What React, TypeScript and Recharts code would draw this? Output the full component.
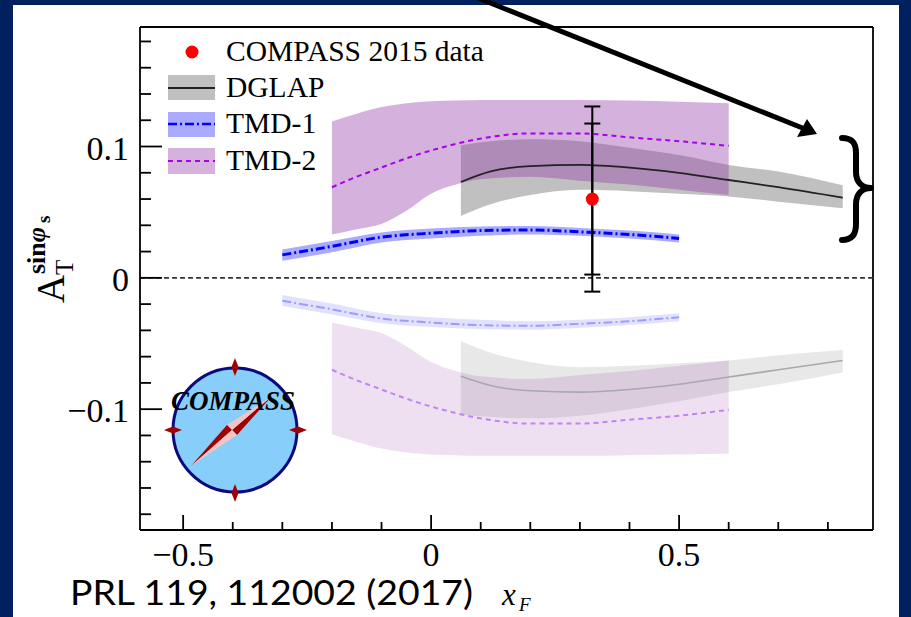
import React from 'react';
import {
  ComposedChart, Area, Line, Scatter, ErrorBar, XAxis, YAxis, ReferenceLine,
} from 'recharts';

// ---------- data ----------
const DGLAP_X = [0.06, 0.12, 0.2, 0.3, 0.4, 0.5, 0.6, 0.7, 0.83];
const DGLAP_MID = [0.073, 0.081, 0.085, 0.086, 0.084, 0.08, 0.0745, 0.069, 0.061];
const DGLAP_HI = [0.101, 0.104, 0.1055, 0.104, 0.099, 0.0935, 0.086, 0.081, 0.0705];
const DGLAP_LO = [0.047, 0.056, 0.063, 0.067, 0.066, 0.064, 0.062, 0.058, 0.053];
const DGLAP_NEG_MID = [-0.075, -0.082, -0.086, -0.087, -0.085, -0.081, -0.0755, -0.07, -0.063];
const DGLAP_NEG_HI = [-0.104, -0.106, -0.107, -0.105, -0.1, -0.094, -0.087, -0.081, -0.072];
const DGLAP_NEG_LO = [-0.048, -0.057, -0.064, -0.068, -0.067, -0.065, -0.063, -0.059, -0.055];

const TMD1_X = [-0.3, -0.2, -0.1, 0, 0.1, 0.2, 0.3, 0.4, 0.5];
const TMD1_MID = [0.0175, 0.024, 0.031, 0.034, 0.036, 0.0365, 0.035, 0.033, 0.03];
const TMD1_HI = [0.0215, 0.028, 0.0345, 0.0375, 0.039, 0.0395, 0.038, 0.036, 0.033];
const TMD1_LO = [0.013, 0.0195, 0.027, 0.03, 0.032, 0.033, 0.032, 0.03, 0.027];
const TMD1_NEG_MID = [-0.0175, -0.024, -0.031, -0.034, -0.036, -0.0365, -0.035, -0.033, -0.03];
const TMD1_NEG_HI = [-0.0215, -0.028, -0.0345, -0.0375, -0.039, -0.0395, -0.038, -0.036, -0.033];
const TMD1_NEG_LO = [-0.013, -0.0195, -0.027, -0.03, -0.032, -0.033, -0.032, -0.03, -0.027];

const TMD2_X = [-0.2, -0.15, -0.1, -0.05, 0, 0.05, 0.1, 0.2, 0.3, 0.4, 0.5, 0.6];
const TMD2_MID = [0.069, 0.077, 0.084, 0.091, 0.097, 0.102, 0.106, 0.11, 0.11, 0.107, 0.104, 0.1005];
const TMD2_HI = [0.119, 0.125, 0.13, 0.133, 0.1345, 0.135, 0.1355, 0.1355, 0.1355, 0.135, 0.134, 0.133];
const TMD2_LO = [0.033, 0.037, 0.041, 0.051, 0.064, 0.071, 0.075, 0.077, 0.074, 0.071, 0.067, 0.063];
const TMD2_NEG_MID = [-0.07, -0.078, -0.085, -0.092, -0.098, -0.103, -0.107, -0.111, -0.111, -0.108, -0.105, -0.1005];
const TMD2_NEG_HI = [-0.119, -0.125, -0.13, -0.133, -0.1345, -0.135, -0.1355, -0.1355, -0.1355, -0.135, -0.1345, -0.134];
const TMD2_NEG_LO = [-0.034, -0.038, -0.042, -0.052, -0.064, -0.071, -0.075, -0.077, -0.074, -0.071, -0.067, -0.063];

const POINT_X = [0.325];
const POINT_Y = [0.06];
const POINT_STAT = [0.0575];
const POINT_TOTAL = [0.0705];

const X_TICKS = [-0.5, -0.4, -0.3, -0.2, -0.1, 0, 0.1, 0.2, 0.3, 0.4, 0.5, 0.6, 0.7, 0.8];
const X_MAJOR = [-0.5, 0, 0.5];
const X_LABELS = ['\u22120.5', '0', '0.5'];
const Y_TICKS = [-0.18, -0.16, -0.14, -0.12, -0.1, -0.08, -0.06, -0.04, -0.02, 0, 0.02, 0.04, 0.06, 0.08, 0.1, 0.12, 0.14, 0.16, 0.18];
const Y_MAJOR = [-0.1, 0, 0.1];
const Y_LABELS = ['\u22120.1', '0', '0.1'];

const X_DOMAIN = [-0.587, 0.891];
const Y_DOMAIN = [-0.192, 0.191];

// ---------- build tables ----------
const band = (xs: number[], mid: number[], lo: number[], hi: number[]) =>
  xs.map((x, i) => ({ x, mid: mid[i], band: [lo[i], hi[i]] }));

const dglap = band(DGLAP_X, DGLAP_MID, DGLAP_LO, DGLAP_HI);
const dglapNeg = band(DGLAP_X, DGLAP_NEG_MID, DGLAP_NEG_LO, DGLAP_NEG_HI);
const tmd1 = band(TMD1_X, TMD1_MID, TMD1_LO, TMD1_HI);
const tmd1Neg = band(TMD1_X, TMD1_NEG_MID, TMD1_NEG_LO, TMD1_NEG_HI);
const tmd2 = band(TMD2_X, TMD2_MID, TMD2_LO, TMD2_HI);
const tmd2Neg = band(TMD2_X, TMD2_NEG_MID, TMD2_NEG_LO, TMD2_NEG_HI);
const points = POINT_X.map((x, i) => ({ x, y: POINT_Y[i], stat: POINT_STAT[i], total: POINT_TOTAL[i] }));

const SERIF = '"Liberation Serif", "DejaVu Serif", serif';

const XTick = (props: any) => {
  const { x, y, payload } = props;
  const idx = X_MAJOR.findIndex((m) => Math.abs(m - payload.value) < 1e-9);
  const major = idx >= 0;
  return (
    <g>
      <line x1={x} x2={x} y1={y} y2={y - (major ? 15 : 8)} stroke="#000" strokeWidth={1.8} />
      {major && (
        <text x={x} y={y + 36} textAnchor="middle" fontFamily={SERIF} fontSize={34} fill="#000">
          {X_LABELS[idx]}
        </text>
      )}
    </g>
  );
};

const YTick = (props: any) => {
  const { x, y, payload } = props;
  const idx = Y_MAJOR.findIndex((m) => Math.abs(m - payload.value) < 1e-9);
  const major = idx >= 0;
  return (
    <g>
      <line x1={x} x2={x + (major ? 22 : 11)} y1={y} y2={y} stroke="#000" strokeWidth={1.8} />
      {major && (
        <text x={x - 11} y={y + 13} textAnchor="end" fontFamily={SERIF} fontSize={34} fill="#000">
          {Y_LABELS[idx]}
        </text>
      )}
    </g>
  );
};

const RedDot = (props: any) => {
  const { cx, cy } = props;
  return <circle cx={cx} cy={cy} r={6.5} fill="#ff0000" />;
};

const PURPLE = 'rgb(150,60,170)';

export default function App() {
  return (
    <div style={{ position: 'absolute', left: 0, top: 0, width: 911, height: 617, background: '#002060', overflow: 'hidden' }}>
      <div style={{ position: 'absolute', left: 13, top: 5, width: 886, height: 612, background: '#ffffff' }} />
      <div style={{ position: 'absolute', left: 0, top: 0 }}>
        <ComposedChart width={911} height={617} margin={{ top: 27, right: 38, left: 40, bottom: 27 }}>
          <XAxis
            type="number"
            dataKey="x"
            domain={X_DOMAIN}
            allowDataOverflow
            ticks={X_TICKS}
            interval={0}
            tick={<XTick />}
            tickLine={false}
            tickSize={0}
            tickMargin={0}
            height={60}
            axisLine={{ stroke: '#000', strokeWidth: 1.8 }}
          />
          <YAxis
            type="number"
            domain={Y_DOMAIN}
            allowDataOverflow
            ticks={Y_TICKS}
            interval={0}
            tick={<YTick />}
            tickLine={false}
            tickSize={0}
            tickMargin={0}
            width={100}
            axisLine={{ stroke: '#000', strokeWidth: 1.8 }}
          />
          <ReferenceLine y={Y_DOMAIN[1]} stroke="#000" strokeWidth={1.8} ifOverflow="visible" />
          <ReferenceLine x={X_DOMAIN[1]} stroke="#000" strokeWidth={1.8} ifOverflow="visible" />

          {/* mirrored (light) curves */}
          <Area data={dglapNeg} dataKey="band" type="monotone" fill="#e8e8e8" fillOpacity={1} stroke="none" isAnimationActive={false} activeDot={false} />
          <Line data={dglapNeg} dataKey="mid" type="monotone" stroke="#a8a8b0" strokeWidth={1.6} dot={false} isAnimationActive={false} activeDot={false} />
          <Area data={tmd2Neg} dataKey="band" type="monotone" fill={PURPLE} fillOpacity={0.16} stroke="none" isAnimationActive={false} activeDot={false} />
          <Line data={tmd2Neg} dataKey="mid" type="monotone" stroke="#c084f5" strokeWidth={2} strokeDasharray="5 4" dot={false} isAnimationActive={false} activeDot={false} />
          <Area data={tmd1Neg} dataKey="band" type="monotone" fill="#e2e2ff" fillOpacity={1} stroke="none" isAnimationActive={false} activeDot={false} />
          <Line data={tmd1Neg} dataKey="mid" type="monotone" stroke="#9c9cff" strokeWidth={2} strokeDasharray="9 3 2 3" dot={false} isAnimationActive={false} activeDot={false} />

          {/* main curves */}
          <Area data={dglap} dataKey="band" type="monotone" fill="#c0c0c0" fillOpacity={1} stroke="none" isAnimationActive={false} activeDot={false} />
          <Line data={dglap} dataKey="mid" type="monotone" stroke="#222" strokeWidth={1.8} dot={false} isAnimationActive={false} activeDot={false} />
          <Area data={tmd2} dataKey="band" type="monotone" fill={PURPLE} fillOpacity={0.4} stroke="none" isAnimationActive={false} activeDot={false} />
          <Line data={tmd2} dataKey="mid" type="monotone" stroke="#a800e8" strokeWidth={2} strokeDasharray="5 4" dot={false} isAnimationActive={false} activeDot={false} />
          <Area data={tmd1} dataKey="band" type="monotone" fill="#aaaaff" fillOpacity={1} stroke="none" isAnimationActive={false} activeDot={false} />
          <Line data={tmd1} dataKey="mid" type="monotone" stroke="#0000ff" strokeWidth={3} strokeDasharray="9 3 2 3" dot={false} isAnimationActive={false} activeDot={false} />

          <ReferenceLine y={0} stroke="#333" strokeWidth={1.6} strokeDasharray="5 3" />

          <Scatter data={points} dataKey="y" shape={<RedDot />} isAnimationActive={false}>
            <ErrorBar dataKey="total" width={8} stroke="#000" strokeWidth={2} direction="y" />
            <ErrorBar dataKey="stat" width={8} stroke="#000" strokeWidth={2} direction="y" />
          </Scatter>
        </ComposedChart>
      </div>

      <svg width={911} height={617} style={{ position: 'absolute', left: 0, top: 0, pointerEvents: 'none' }}>
        {/* legend */}
        <circle cx={192} cy={52} r={6.5} fill="#ff0000" />
        <text x={226} y={61} fontFamily={SERIF} fontSize={29.5} fill="#000">COMPASS 2015 data</text>
        <rect x={168} y={75} width={47} height={25} fill="#c0c0c0" />
        <line x1={168} x2={215} y1={88} y2={88} stroke="#222" strokeWidth={2} />
        <text x={226} y={97} fontFamily={SERIF} fontSize={29.5} fill="#000">DGLAP</text>
        <rect x={168} y={112} width={47} height={25} fill="#aaaaff" />
        <line x1={168} x2={215} y1={124} y2={124} stroke="#0000ff" strokeWidth={2.5} strokeDasharray="9 3 2 3" />
        <text x={226} y={133} fontFamily={SERIF} fontSize={29.5} fill="#000">TMD-1</text>
        <rect x={168} y={148} width={47} height={26} fill="#d5b1de" />
        <line x1={168} x2={215} y1={161} y2={161} stroke="#a800e8" strokeWidth={2} strokeDasharray="5 4" />
        <text x={226} y={170} fontFamily={SERIF} fontSize={29.5} fill="#000">TMD-2</text>

        {/* axis titles */}
        <text transform="translate(64,303) rotate(-90)" fontFamily={SERIF} fontSize={39} fill="#000">A</text>
        <text transform="translate(73,275) rotate(-90)" fontFamily={SERIF} fontSize={25} fill="#000">T</text>
        <text transform="translate(45,274) rotate(-90)" fontFamily={SERIF} fontSize={26} fontWeight="bold" fill="#000">
          sin<tspan fontStyle="italic">{'\u03C6'}</tspan>
        </text>
        <text transform="translate(50,223) rotate(-90)" fontFamily={SERIF} fontSize={19} fontWeight="bold" fill="#000">s</text>

        <text x={502} y={605} fontFamily={SERIF} fontSize={31} fontStyle="italic" fill="#000">x</text>
        <text x={519} y={611} fontFamily={SERIF} fontSize={19} fontStyle="italic" fill="#000">F</text>
        <text x={70} y={605} fontFamily="Lato, 'Open Sans', sans-serif" fontSize={34} fill="#000" textLength={403} lengthAdjust="spacingAndGlyphs">
          PRL 119, 112002 (2017)
        </text>

        {/* arrow */}
        <line x1={478} y1={-2} x2={805} y2={129} stroke="#000" strokeWidth={5} />
        <polygon points="817,134 797,137 807,119" fill="#000" />

        {/* brace */}
        <path
          d="M842,138 C853,138 856,144 856,153 L856,172 C856,182 862,188 871,188 C862,188 856,194 856,204 L856,224 C856,233 853,240 842,240"
          fill="none" stroke="#000" strokeWidth={6} strokeLinecap="round" strokeLinejoin="round"
        />

        {/* COMPASS logo */}
        <circle cx={235} cy={430} r={62} fill="#87cefa" stroke="#0a0a80" strokeWidth={3} />
        <polygon points="235,358 238.5,367 235,376 231.5,367" fill="#a00000" />
        <polygon points="235,484 238.5,493 235,502 231.5,493" fill="#a00000" />
        <polygon points="164,430 173,426.5 182,430 173,433.5" fill="#a00000" />
        <polygon points="289,430 298,426.5 307,430 298,433.5" fill="#a00000" />
        <polygon points="272,396 232,430 237,435" fill="#a00000" />
        <polygon points="272,396 232,430 227,425" fill="#f2c4c4" />
        <polygon points="191,466 232,430 227,425" fill="#a00000" />
        <polygon points="191,466 232,430 237,435" fill="#f2c4c4" />
        <text x={171} y={410} fontFamily={SERIF} fontSize={27} fontWeight="bold" fontStyle="italic" fill="#000">COMPASS</text>
      </svg>
    </div>
  );
}
